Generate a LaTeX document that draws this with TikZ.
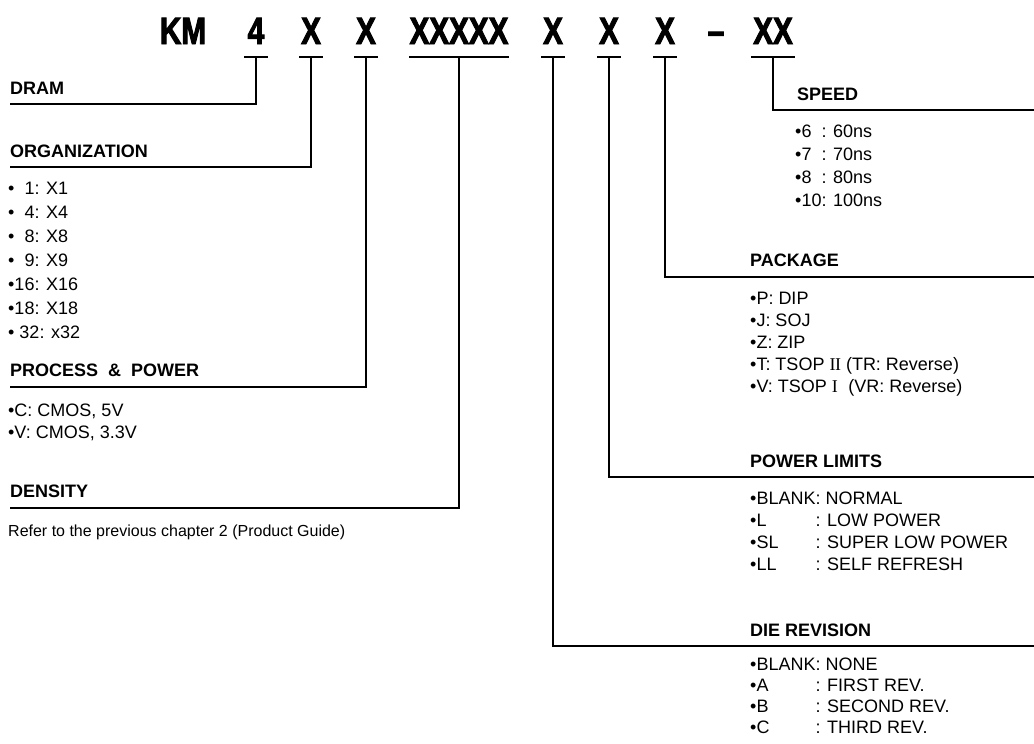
\documentclass[tikz,border=0pt]{standalone}
\usepackage{fontspec}
\setmainfont{Liberation Sans}
\newfontfamily\romanfont{Liberation Serif}
\newfontfamily\condfont[FakeStretch=0.78,FakeBold=2.5]{Liberation Sans Bold}
\newcommand{\itmfont}{\fontsize{18}{20}\selectfont}
\newcommand{\lblfont}{\fontsize{18}{20}\selectfont\bfseries}
\newcommand{\ttlfont}{\condfont\fontsize{38}{40}\selectfont}
\newcommand{\kb}[1]{\makebox[0pt][l]{#1}\hphantom{•BLANK}}
\begin{document}
\begin{tikzpicture}[x=1pt,y=-1pt,
  lbl/.style={font=\lblfont, anchor=base west, inner sep=0pt},
  itm/.style={font=\itmfont, anchor=base west, inner sep=0pt},
  ttl/.style={font=\ttlfont, anchor=base, inner sep=0pt},
  conn/.style={line width=1.2pt},
  ubar/.style={line width=2.8pt}]
\useasboundingbox (0,0) rectangle (1034,744);
% ---- title ----
\node[ttl] (tKM) at (183,44) {KM};
\node[ttl] (t4)  at (256,44) {4};
\node[ttl] (tO)  at (311,44) {X};
\node[ttl] (tP)  at (366,44) {X};
\node[ttl] (tD)  at (459,44) {XXXXX};
\node[ttl] (tR)  at (553,44) {X};
\node[ttl] (tL)  at (609,44) {X};
\node[ttl] (tK)  at (665,44) {X};
\node[ttl] (tdash) at (716,44) {–};
\node[ttl] (tS)  at (773,44) {XX};
% underline anchor points
\coordinate (c4) at (256,57);
\coordinate (cO) at (311,57);
\coordinate (cP) at (366,57);
\coordinate (cD) at (459,57);
\coordinate (cR) at (553,57);
\coordinate (cL) at (609,57);
\coordinate (cK) at (665,57);
\coordinate (cS) at (773,57);
\draw[ubar] ([xshift=-12pt]c4) -- ([xshift=12pt]c4);
\draw[ubar] ([xshift=-12pt]cO) -- ([xshift=12pt]cO);
\draw[ubar] ([xshift=-12pt]cP) -- ([xshift=12pt]cP);
\draw[ubar] ([xshift=-50pt]cD) -- ([xshift=50pt]cD);
\draw[ubar] ([xshift=-12pt]cR) -- ([xshift=12pt]cR);
\draw[ubar] ([xshift=-12pt]cL) -- ([xshift=12pt]cL);
\draw[ubar] ([xshift=-12pt]cK) -- ([xshift=12pt]cK);
\draw[ubar] ([xshift=-22pt]cS) -- ([xshift=22pt]cS);
% ---- left column ----
\node[lbl] (dram) at (10,94) {DRAM};
\coordinate (eDram) at (10,104);
\draw[conn] (c4) |- (eDram);

\node[lbl] (org) at (10,157) {ORGANIZATION};
\coordinate (eOrg) at (10,167);
\draw[conn] (cO) |- (eOrg);
\node[itm] (o1) at (8,194) {•\hphantom{1}1: X1};
\node[itm] (o2) at (8,218) {•\hphantom{1}4: X4};
\node[itm] (o3) at (8,242) {•\hphantom{1}8: X8};
\node[itm] (o4) at (8,266) {•\hphantom{1}9: X9};
\node[itm] (o5) at (8,290) {•16: X16};
\node[itm] (o6) at (8,314) {•18: X18};
\node[itm] (o7) at (8,338) {• 32: x32};

\node[lbl] (pp) at (10,376) {PROCESS\ \ \&\ \ POWER};
\coordinate (ePP) at (10,387);
\draw[conn] (cP) |- (ePP);
\node[itm] (p1) at (8,416) {•C: CMOS, 5V};
\node[itm] (p2) at (8,438) {•V: CMOS, 3.3V};

\node[lbl] (den) at (10,497) {DENSITY};
\coordinate (eDen) at (10,508);
\draw[conn] (cD) |- (eDen);
\node[itm, font=\fontsize{16}{18}\selectfont] (d1) at (8,536) {Refer to the previous chapter 2 (Product Guide)};
% ---- right column ----
\node[lbl] (spd) at (797,100) {SPEED};
\coordinate (eSpd) at (1034,110);
\draw[conn] (cS) |- (eSpd);
\node[itm] (s1) at (795,137) {•6\hphantom{0}: 60ns};
\node[itm] (s2) at (795,160) {•7\hphantom{0}: 70ns};
\node[itm] (s3) at (795,183) {•8\hphantom{0}: 80ns};
\node[itm] (s4) at (795,206) {•10: 100ns};

\node[lbl] (pkg) at (750,266) {PACKAGE};
\coordinate (ePkg) at (1034,277);
\draw[conn] (cK) |- (ePkg);
\node[itm] (k1) at (750,304) {•P: DIP};
\node[itm] (k2) at (750,326) {•J: SOJ};
\node[itm] (k3) at (750,348) {•Z: ZIP};
\node[itm] (k4) at (750,370) {•T: TSOP {\romanfont I\kern-0.5ptI} (TR: Reverse)};
\node[itm] (k5) at (750,392) {•V: TSOP {\romanfont I\kern-0.5pt\hphantom{I}} (VR: Reverse)};

\node[lbl] (pwr) at (750,467) {POWER LIMITS};
\coordinate (ePwr) at (1034,477);
\draw[conn] (cL) |- (ePwr);
\node[itm] (w1) at (750,504) {•BLANK: NORMAL};
\node[itm] (w2) at (750,526) {\kb{•L}: LOW POWER};
\node[itm] (w3) at (750,548) {\kb{•SL}: SUPER LOW POWER};
\node[itm] (w4) at (750,570) {\kb{•LL}: SELF REFRESH};

\node[lbl] (die) at (750,636) {DIE REVISION};
\coordinate (eDie) at (1034,646);
\draw[conn] (cR) |- (eDie);
\node[itm] (r1) at (750,670) {•BLANK: NONE};
\node[itm] (r2) at (750,691) {\kb{•A}: FIRST REV.};
\node[itm] (r3) at (750,712) {\kb{•B}: SECOND REV.};
\node[itm] (r4) at (750,733) {\kb{•C}: THIRD REV.};
\end{tikzpicture}
\end{document}
